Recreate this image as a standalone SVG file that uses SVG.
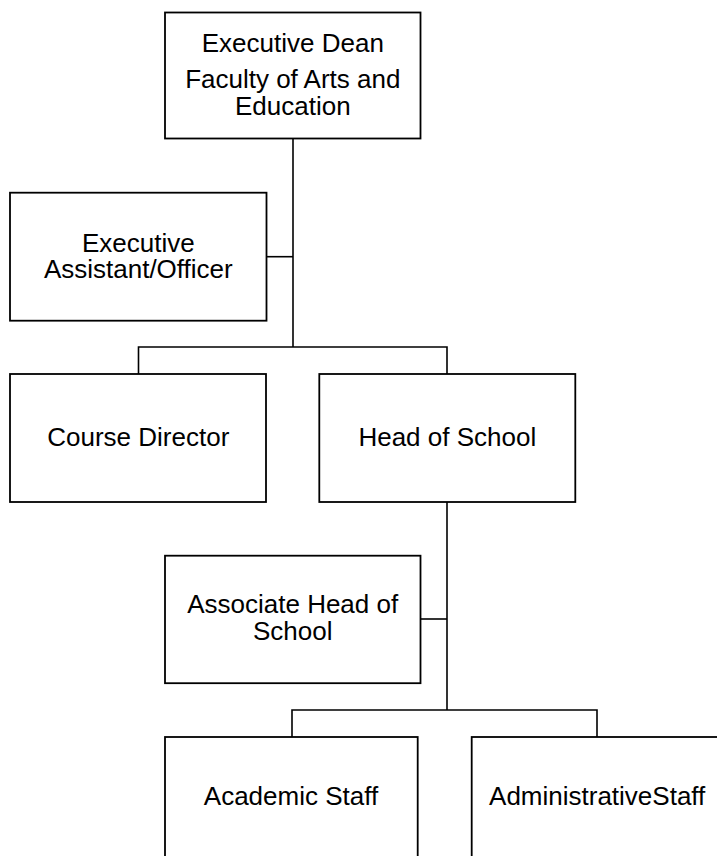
<svg xmlns="http://www.w3.org/2000/svg" width="717" height="856" viewBox="0 0 717 856">
<style>
.box{fill:#fff;stroke:#000;stroke-width:1.8}
.lbl{font-family:"Liberation Sans",Arial,sans-serif;font-size:26px;fill:#000;text-anchor:middle}
.con{fill:none;stroke:#000;stroke-width:1.6}
</style>
<rect width="717" height="856" fill="#fff"/>
<g id="connectors">
<path class="con" d="M293 138.5V347"/>
<path class="con" d="M266.5 256.7H293"/>
<path class="con" d="M138.5 374V347H447V374"/>
<path class="con" d="M447 502V710"/>
<path class="con" d="M420.5 619H447"/>
<path class="con" d="M292 737V710H597V737"/>
</g>
<g id="executive-dean">
<rect class="box" x="165" y="12.5" width="255.5" height="126"/>
<text class="lbl" x="292.8" y="51.7">Executive Dean</text>
<text class="lbl" x="292.8" y="88.3">Faculty of Arts and</text>
<text class="lbl" x="292.8" y="115">Education</text>
</g>
<g id="executive-assistant">
<rect class="box" x="10" y="192.7" width="256.5" height="128"/>
<text class="lbl" x="138.3" y="251.7">Executive</text>
<text class="lbl" x="138.3" y="278.3">Assistant/Officer</text>
</g>
<g id="course-director">
<rect class="box" x="10" y="374" width="256" height="128"/>
<text class="lbl" x="138.3" y="446">Course Director</text>
</g>
<g id="head-of-school">
<rect class="box" x="319.3" y="374" width="256" height="128"/>
<text class="lbl" x="447.3" y="446">Head of School</text>
</g>
<g id="associate-head">
<rect class="box" x="165" y="555.7" width="255.5" height="127.5"/>
<text class="lbl" x="292.7" y="613.3">Associate Head of</text>
<text class="lbl" x="292.7" y="640">School</text>
</g>
<g id="academic-staff">
<rect class="box" x="165" y="737" width="252.7" height="140"/>
<text class="lbl" x="291" y="805">Academic Staff</text>
</g>
<g id="administrative-staff">
<rect class="box" x="471.7" y="737" width="251" height="140"/>
<text class="lbl" x="597.2" y="805">AdministrativeStaff</text>
</g>
</svg>
